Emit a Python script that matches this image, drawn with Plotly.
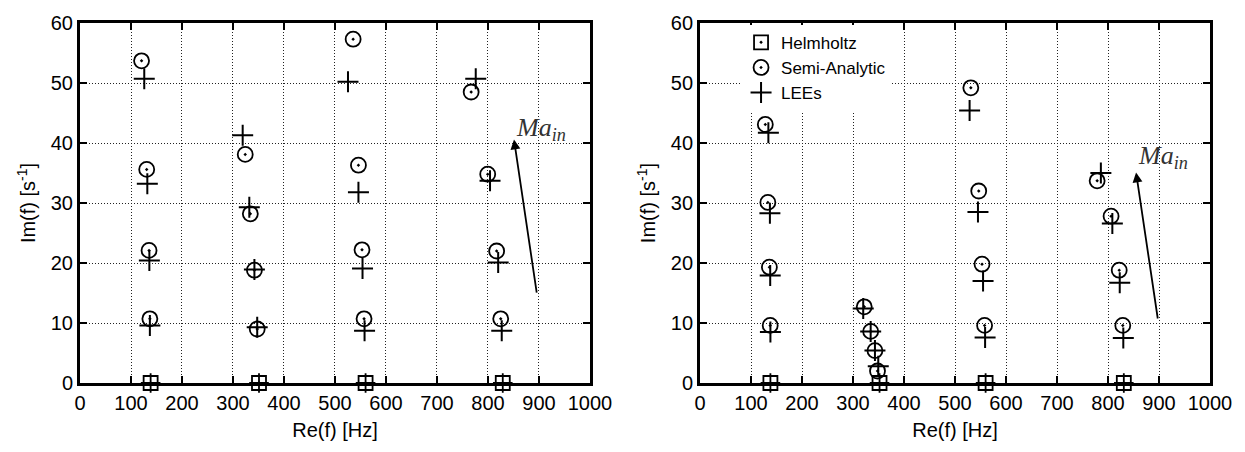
import plotly.graph_objects as go

# ---------- data: left panel ----------
L_helm_re = [138.5, 351, 560, 829]
L_helm_im = [0, 0, 0, 0]
L_semi_re = [120.7, 130.8, 135.4, 137, 324, 334, 342, 347.5, 535.6, 546, 553, 557, 767, 799.5, 817, 825]
L_semi_im = [53.7, 35.6, 22.1, 10.7, 38.1, 28.2, 18.8, 9.0, 57.3, 36.3, 22.2, 10.7, 48.5, 34.8, 22.0, 10.7]
L_lee_re = [126, 132, 136, 137, 319, 332, 342, 347.5, 525.5, 546, 554, 558, 776, 804, 820, 827]
L_lee_im = [50.7, 33.2, 20.4, 9.6, 41.3, 29.3, 18.9, 9.3, 50.2, 31.8, 19.1, 8.7, 50.7, 33.7, 20.1, 8.7]
L_arrow = [896, 14.8, 851, 40.6]   # tail x, tail y, head x, head y
L_label = [904, 42.4]

# ---------- data: right panel ----------
R_helm_re = [138, 352, 560, 831]
R_helm_im = [0, 0, 0, 0]
R_semi_re = [128, 133, 136, 137.6, 322, 334.6, 343, 348, 531, 546.5, 553, 558, 778.7, 806, 822, 829]
R_semi_im = [43.1, 30.1, 19.3, 9.6, 12.7, 8.6, 5.4, 2.0, 49.2, 32.0, 19.8, 9.6, 33.7, 27.8, 18.8, 9.6]
R_lee_re = [134, 137, 137.6, 138, 320, 334.6, 343, 349.5, 528.6, 545, 555, 559, 786, 808.5, 823, 830]
R_lee_im = [41.7, 28.3, 17.9, 8.5, 12.4, 8.6, 5.4, 2.8, 45.4, 28.5, 17.0, 7.6, 35.0, 26.6, 16.7, 7.5]
R_arrow = [898, 10.5, 855, 35.1]
R_label = [908, 37.6]

x_ticks = [0, 100, 200, 300, 400, 500, 600, 700, 800, 900, 1000]
y_ticks = [0, 10, 20, 30, 40, 50, 60]

FONT = "Liberation Sans, Arial, sans-serif"
FS = 20
fig = go.Figure()

def add_panel(xa, ya, hre, him, sre, sim, lre, lim, show):
    fig.add_trace(go.Scatter(x=hre, y=him, mode="markers", name="Helmholtz", xaxis=xa, yaxis=ya,
                             cliponaxis=False, showlegend=show,
                             marker=dict(symbol="square-open-dot", size=14, color="black",
                                         line=dict(width=1.8, color="black"))))
    fig.add_trace(go.Scatter(x=hre, y=him, mode="markers", xaxis=xa, yaxis=ya, cliponaxis=False,
                             showlegend=False, hoverinfo="skip",
                             marker=dict(symbol="cross-thin-open", size=14, color="black",
                                         line=dict(width=1.8, color="black"))))
    fig.add_trace(go.Scatter(x=sre, y=sim, mode="markers", name="Semi-Analytic", xaxis=xa, yaxis=ya,
                             cliponaxis=False, showlegend=show,
                             marker=dict(symbol="circle-open-dot", size=15, color="black",
                                         line=dict(width=1.8, color="black"))))
    fig.add_trace(go.Scatter(x=lre, y=lim, mode="markers", name="LEEs", xaxis=xa, yaxis=ya,
                             cliponaxis=False, showlegend=show,
                             marker=dict(symbol="cross-thin-open", size=15, color="black",
                                         line=dict(width=2, color="black"))))

add_panel("x", "y", L_helm_re, L_helm_im, L_semi_re, L_semi_im, L_lee_re, L_lee_im, False)
add_panel("x2", "y2", R_helm_re, R_helm_im, R_semi_re, R_semi_im, R_lee_re, R_lee_im, True)

axis_common = dict(showline=True, linewidth=3, linecolor="black", mirror="ticks",
                   ticks="inside", ticklen=7, tickwidth=2, tickcolor="black",
                   showgrid=True, gridcolor="#222222", gridwidth=1, griddash="1px,2px",
                   zeroline=False, tickfont=dict(family=FONT, size=FS, color="black"),
                   title_font=dict(family=FONT, size=FS, color="black"))

xd1 = [0, 0.4513]
xd2 = [0.5487, 1.0]
fig.update_layout(
    width=1245, height=452,
    margin=dict(l=80, r=35, t=13, b=69),
    paper_bgcolor="white", plot_bgcolor="white",
    showlegend=True,
    legend=dict(x=0.585, y=0.995, xanchor="left", yanchor="top", bgcolor="white",
                font=dict(family=FONT, size=17, color="black"), tracegroupgap=0,
                itemwidth=30),
    xaxis=dict(domain=xd1, range=[0, 1000], tickvals=x_ticks, anchor="y",
               title=dict(text="Re(f) [Hz]", standoff=10), **axis_common),
    yaxis=dict(domain=[0, 1], range=[0, 60], tickvals=y_ticks, anchor="x",
               title=dict(text="Im(f) [s<sup>-1</sup>]", standoff=10), **axis_common),
    xaxis2=dict(domain=xd2, range=[0, 1000], tickvals=x_ticks, anchor="y2",
                title=dict(text="Re(f) [Hz]", standoff=10), **axis_common),
    yaxis2=dict(domain=[0, 1], range=[0, 60], tickvals=y_ticks, anchor="x2",
                title=dict(text="Im(f) [s<sup>-1</sup>]", standoff=10), **axis_common),
)

for (xr, yr, arr, lab) in [("x", "y", L_arrow, L_label), ("x2", "y2", R_arrow, R_label)]:
    fig.add_annotation(x=arr[2], y=arr[3], ax=arr[0], ay=arr[1], xref=xr, yref=yr,
                       axref=xr, ayref=yr, text="", showarrow=True, arrowhead=2,
                       arrowsize=1.1, arrowwidth=1.8, arrowcolor="black")
    fig.add_annotation(x=lab[0], y=lab[1], xref=xr, yref=yr, showarrow=False,
                       text="<i>Ma<sub>in</sub></i>",
                       font=dict(family="Liberation Serif, DejaVu Serif, serif", size=26,
                                 color="#333333"))

fig.write_html("out.html")
